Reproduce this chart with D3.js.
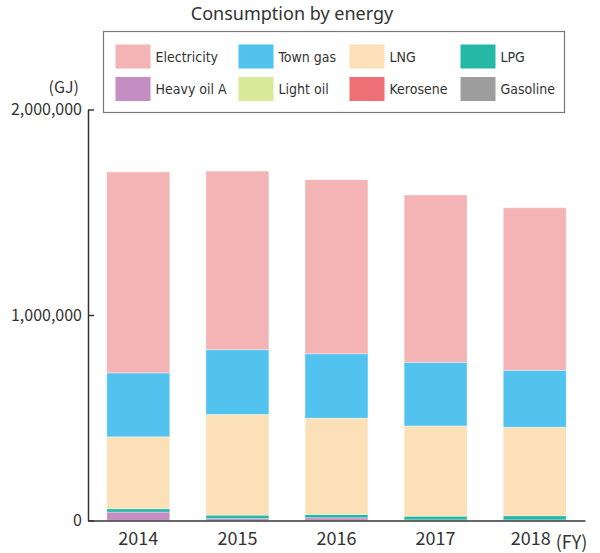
<!DOCTYPE html>
<html>
<head>
<meta charset="utf-8">
<script src="https://cdn.jsdelivr.net/npm/d3@7"></script>
<style>
  body { margin: 0; background: #fff; }
  text { font-family: "Noto Sans CJK JP", "Noto Sans", sans-serif; fill: #333; }
  .legend-label { font-family: "Liberation Sans Narrow", "DejaVu Sans Condensed", sans-serif; }
  .title { font-family: "Noto Sans", sans-serif; }
</style>
</head>
<body>
<div id="chart"></div>
<script>
// Data (GJ)
const years = ['2014', '2015', '2016', '2017', '2018'];
const energyNames = ['Electricity', 'Town gas', 'LNG', 'LPG', 'Heavy oil A', 'Light oil', 'Kerosene', 'Gasoline'];
const energyColors = ['#f4b3b4', '#52c2ef', '#fce0b8', '#25b8a7', '#c48ec2', '#dae89a', '#ee6f74', '#9d9d9d'];
const electricity = [978000, 869000, 847000, 814000, 791000];
const townGas = [311000, 315000, 313000, 310000, 277000];
const lng = [350000, 490000, 469000, 439000, 431000];
const lpg = [16000, 17000, 16000, 18000, 20000];
const heavyOilA = [40000, 8000, 12000, 2000, 2000];
const lightOil = [500, 500, 500, 500, 500];
const kerosene = [300, 300, 300, 300, 300];
const gasoline = [300, 300, 300, 300, 300];
const yTicks = [0, 1000000, 2000000];

// stacking order from the bottom up
const stackOrder = ['Gasoline', 'Kerosene', 'Light oil', 'Heavy oil A', 'LPG', 'LNG', 'Town gas', 'Electricity'];
const seriesByName = {
    'Electricity': electricity, 'Town gas': townGas, 'LNG': lng, 'LPG': lpg,
    'Heavy oil A': heavyOilA, 'Light oil': lightOil, 'Kerosene': kerosene, 'Gasoline': gasoline
};
const table = years.map((y, i) => {
    const row = { year: y };
    energyNames.forEach(n => { row[n] = seriesByName[n][i]; });
    return row;
});

const W = 600, H = 553;
const margin = { top: 109.5, right: 15, bottom: 32.5, left: 88 };
const width = W - margin.left - margin.right;
const height = H - margin.top - margin.bottom;

const svg = d3.select('#chart').append('svg')
    .attr('width', W)
    .attr('height', H);

const color = d3.scaleOrdinal().domain(energyNames).range(energyColors);

const x = d3.scaleBand()
    .domain(years)
    .range([0, width])
    .paddingInner(0.365)
    .paddingOuter(0.19);

const y = d3.scaleLinear()
    .domain([0, 2000000])
    .range([height, 0]);

const g = svg.append('g')
    .attr('transform', `translate(${margin.left},${margin.top})`);

// Stacked bars
const stacked = d3.stack().keys(stackOrder)(table);
g.selectAll('g.layer')
    .data(stacked)
    .enter().append('g')
    .attr('class', 'layer')
    .attr('fill', d => color(d.key))
    .selectAll('rect')
    .data(d => d)
    .enter().append('rect')
    .attr('x', d => x(d.data.year))
    .attr('y', d => y(d[1]))
    .attr('width', x.bandwidth())
    .attr('height', d => Math.max(0, y(d[0]) - y(d[1])))
    .attr('stroke', '#fff')
    .attr('stroke-opacity', 0.45)
    .attr('stroke-width', 0.8);

// Y axis, ticks pointing inward
const yAxis = g.append('g')
    .call(d3.axisLeft(y).tickValues(yTicks).tickFormat(d3.format(',')).tickSizeInner(-6).tickSizeOuter(0).tickPadding(6));
yAxis.select('.domain').attr('stroke', '#333').attr('stroke-width', 1.5);
yAxis.selectAll('.tick line').attr('stroke', '#333').attr('stroke-width', 1.5);
yAxis.selectAll('.tick text')
    .style('font-size', '16px')
    .attr('fill', '#333');

// X axis
const xAxis = g.append('g')
    .attr('transform', `translate(0,${height})`)
    .call(d3.axisBottom(x).tickSize(0).tickPadding(12));
xAxis.select('.domain').attr('stroke', '#333').attr('stroke-width', 1.5);
xAxis.selectAll('.tick text')
    .style('font-size', '18px')
    .attr('fill', '#333')
    .attr('dx', d => d === '2018' ? -4 : 0);

// unit labels
g.append('text')
    .attr('x', -9)
    .attr('y', -17)
    .style('text-anchor', 'end')
    .style('font-size', '16px')
    .text('(GJ)');

g.append('text')
    .attr('x', x('2018') + x.bandwidth() / 2 + 21)
    .attr('y', height + 28)
    .style('font-size', '18px')
    .text('(FY)');

// Title
svg.append('text')
    .attr('class', 'title')
    .attr('x', 292)
    .attr('y', 20)
    .style('text-anchor', 'middle')
    .style('font-size', '18px')
    .text('Consumption by energy');

// Legend
const legend = svg.append('g').attr('transform', 'translate(103.5,31.5)');
legend.append('rect')
    .attr('width', 461)
    .attr('height', 81)
    .attr('fill', '#fff')
    .attr('stroke', '#777')
    .attr('stroke-width', 1.2);

const colX = [12, 135, 246, 357];
const items = legend.selectAll('g.item')
    .data(energyNames)
    .enter().append('g')
    .attr('class', 'item')
    .attr('transform', (d, i) => `translate(${colX[i % 4]},${i < 4 ? 13 : 45.5})`);
items.append('rect')
    .attr('width', 35)
    .attr('height', 24)
    .attr('fill', d => color(d));
items.append('text')
    .attr('class', 'legend-label')
    .attr('x', 40)
    .attr('y', 12)
    .attr('dy', '0.36em')
    .style('font-size', '14px')
    .attr('fill', '#222')
    .text(d => d);
</script>
</body>
</html>
